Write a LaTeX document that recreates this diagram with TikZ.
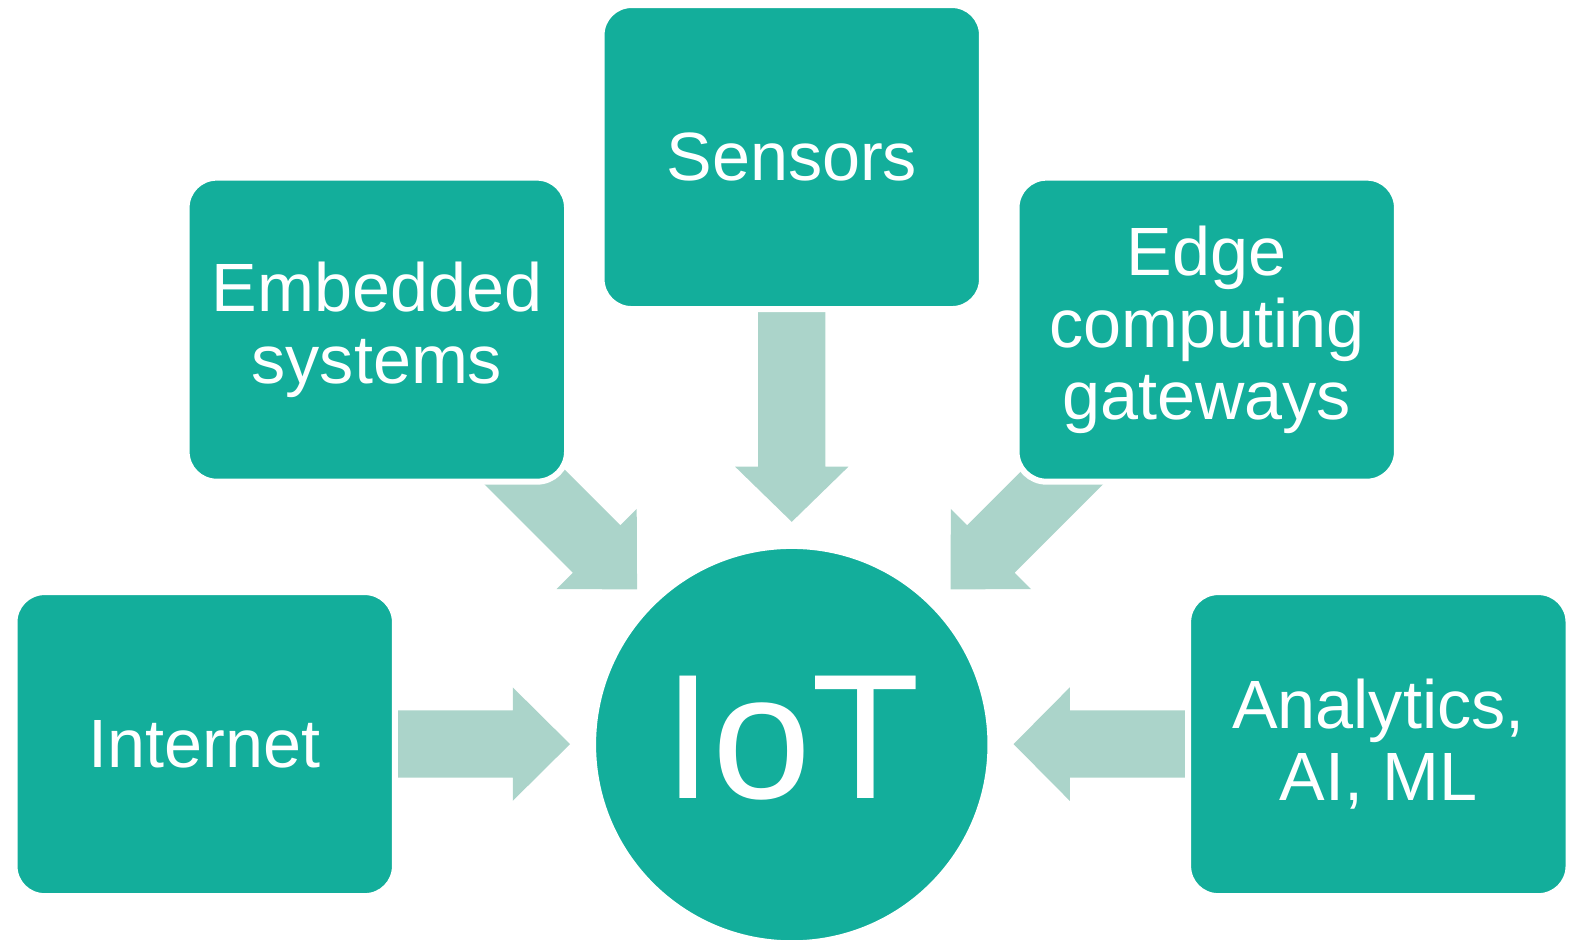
\documentclass[tikz,border=0pt]{standalone}
\usepackage{fontspec}
\setmainfont{Liberation Sans}
\pgfdeclarelayer{bg}
\pgfsetlayers{bg,main}
\definecolor{teal1}{HTML}{13AE9B}
\definecolor{arrowc}{HTML}{ABD4CA}
\tikzset{
  box/.style={rectangle, rounded corners=15bp, fill=teal1, draw=white, line width=3bp,
    minimum width=190.2bp, minimum height=152bp, text=white, align=center,
    font=\fontsize{34.3}{36.3}\selectfont, inner sep=0pt},
  hub/.style={circle, fill=teal1, draw=white, line width=2bp, minimum size=197.7bp,
    text=white, font=\fontsize{89.3}{92}\selectfont, inner sep=0pt, text depth=7bp},
  arr/.style={fill=arrowc, draw=none},
}
% block arrow in local pixel units: tail at origin, pointing along +x
\newcommand{\blockarrow}[2]{% #1 shaft length, #2 head length
  (0,-33.5) -- (#1,-33.5) -- (#1,-56.5) -- ({#1+#2},0) -- (#1,56.5) -- (#1,33.5) -- (0,33.5) -- cycle}
\begin{document}
\begin{tikzpicture}[x=0.50175bp,y=-0.50175bp]
\useasboundingbox (0,0) rectangle (1567.5,936.7);
% nodes
\node[box] (sen) at (789,156.5) {Sensors};
\node[box] (emb) at (375.5,328.5) {Embedded\\systems};
\node[box] (edg) at (1202.5,328.5) {Edge\\computing\\gateways};
\node[box] (int) at (204,741.5) {Internet};
\node[box] (ana) at (1373.5,741.5) {Analytics,\\AI, ML};
\node[hub] (iot) at (789,742) {IoT};
% arrow tails (hidden behind the boxes)
\coordinate (tsen) at (789,300);
\coordinate (temb) at (484.5,437);
\coordinate (tedg) at (1097.5,437);
\coordinate (tint) at (385,741.5);
\coordinate (tana) at (1192,741.5);
\begin{pgfonlayer}{bg}
  \fill[arr, shift={(tsen)}, rotate=-90] \blockarrow{165}{55};
  \fill[arr, shift={(temb)}, rotate=-45] \blockarrow{155.6}{57};
  \fill[arr, shift={(tedg)}, rotate=-135] \blockarrow{155.6}{57};
  \fill[arr, shift={(tint)}] \blockarrow{126}{57};
  \fill[arr, shift={(tana)}, rotate=180] \blockarrow{126}{56};
\end{pgfonlayer}
\end{tikzpicture}
\end{document}
